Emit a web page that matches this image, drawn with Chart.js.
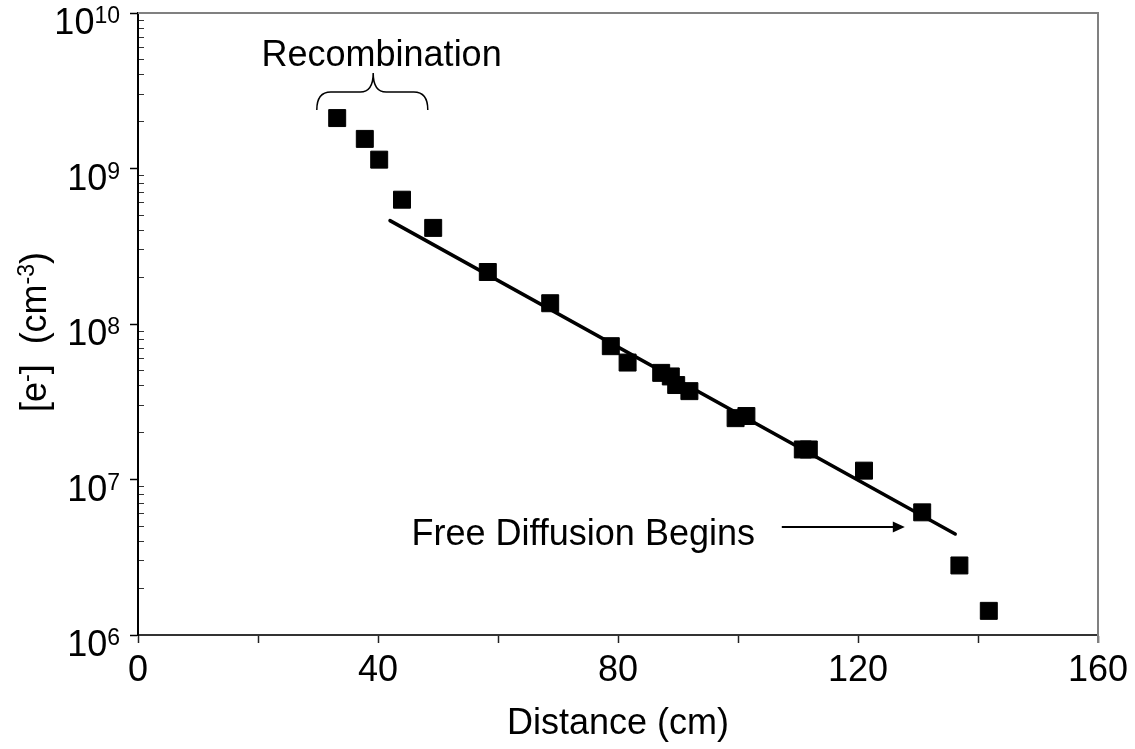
<!DOCTYPE html>
<html>
<head>
<meta charset="utf-8">
<title>[e-] vs Distance</title>
<script src="https://cdn.jsdelivr.net/npm/chart.js@4.4.0/dist/chart.umd.min.js"></script>
<style>
  html, body { margin: 0; padding: 0; background: #fff; }
  canvas { display: block; }
</style>
</head>
<body>
<canvas id="chart" width="1135" height="749"></canvas>
<script>
// Measured points (distance in cm, electron density in cm^-3)
const distance = [33.2, 37.8, 40.2, 44.0, 49.2, 58.3, 68.7, 78.8, 81.6, 87.2, 88.8, 89.7, 91.9, 99.6, 101.4, 110.8, 111.8, 121.0, 130.7, 136.9, 141.8];
const density = [2.11e9, 1.55e9, 1.14e9, 6.3e8, 4.15e8, 2.16e8, 1.36e8, 7.2e7, 5.65e7, 4.85e7, 4.6e7, 4.05e7, 3.7e7, 2.48e7, 2.56e7, 1.56e7, 1.56e7, 1.14e7, 6.15e6, 2.8e6, 1.43e6];

// Fitted line (free diffusion region)
const fitDistance = [42, 136.2];
const fitDensity = [4.62e8, 4.46e6];

// Axis ticks
const xTicks = [0, 20, 40, 60, 80, 100, 120, 140, 160];
const xLabels = ['0', '', '40', '', '80', '', '120', '', '160'];
const yExponents = [6, 7, 8, 9, 10];
const yMinorSteps = [2, 3, 4, 5, 6, 7, 8, 9];

const FONT = '"Liberation Sans", Arial, Helvetica, sans-serif';

const points = distance.map((d, i) => ({ x: d, y: density[i] }));
const fitPoints = fitDistance.map((d, i) => ({ x: d, y: fitDensity[i] }));

const minorValues = [];
yExponents.slice(0, -1).forEach(e => {
    yMinorSteps.forEach(s => minorValues.push(s * Math.pow(10, e)));
});

// Draws frame, y tick labels with superscripts, y title and the annotations
const decorations = {
    id: 'decorations',
    afterDraw(chart) {
        const { ctx, chartArea, scales: { x, y } } = chart;
        ctx.save();

        // gray frame on top and right
        ctx.strokeStyle = '#808080';
        ctx.lineWidth = 2;
        ctx.beginPath();
        ctx.moveTo(chartArea.left, chartArea.top);
        ctx.lineTo(chartArea.right, chartArea.top);
        ctx.lineTo(chartArea.right, chartArea.bottom + 8);
        ctx.stroke();

        // y tick labels 10^n
        ctx.fillStyle = '#000';
        ctx.textBaseline = 'alphabetic';
        const labelRight = y.right - 18;
        yExponents.forEach(e => {
            const base = y.getPixelForValue(Math.pow(10, e)) + 21;
            ctx.font = '23px ' + FONT;
            const supW = ctx.measureText(String(e)).width;
            ctx.textAlign = 'left';
            ctx.fillText(String(e), labelRight - supW, base - 11);
            ctx.font = '36px ' + FONT;
            ctx.textAlign = 'right';
            ctx.fillText('10', labelRight - supW, base);
        });

        // y title: [e-]  (cm-3)
        const parts = [
            { t: '[e', sup: false },
            { t: '-', sup: true },
            { t: ']  (cm', sup: false },
            { t: '-3', sup: true },
            { t: ')', sup: false }
        ];
        let total = 0;
        parts.forEach(p => {
            ctx.font = (p.sup ? '23px ' : '36px ') + FONT;
            p.w = ctx.measureText(p.t).width;
            total += p.w;
        });
        ctx.save();
        ctx.translate(46, (chartArea.top + chartArea.bottom) / 2 + 8);
        ctx.rotate(-Math.PI / 2);
        ctx.textAlign = 'left';
        let cx = -total / 2;
        parts.forEach(p => {
            ctx.font = (p.sup ? '23px ' : '36px ') + FONT;
            ctx.fillText(p.t, cx, p.sup ? -12 : 0);
            cx += p.w;
        });
        ctx.restore();

        // Recombination label with brace
        ctx.font = '36px ' + FONT;
        ctx.textAlign = 'center';
        ctx.fillText('Recombination', x.getPixelForValue(40.6), y.getPixelForValue(4.56e9));

        const bl = x.getPixelForValue(29.8);
        const br = x.getPixelForValue(48.3);
        const bm = x.getPixelForValue(39.2);
        const yEnd = y.getPixelForValue(2.38e9);
        const yMid = y.getPixelForValue(3.1e9);
        const yPeak = y.getPixelForValue(4.11e9);
        ctx.strokeStyle = '#000';
        ctx.lineWidth = 1.5;
        ctx.beginPath();
        ctx.moveTo(bl, yEnd);
        ctx.quadraticCurveTo(bl, yMid, bl + 14, yMid);
        ctx.lineTo(bm - 13, yMid);
        ctx.quadraticCurveTo(bm, yMid, bm, yPeak);
        ctx.quadraticCurveTo(bm, yMid, bm + 13, yMid);
        ctx.lineTo(br - 14, yMid);
        ctx.quadraticCurveTo(br, yMid, br, yEnd);
        ctx.stroke();

        // Free Diffusion Begins label with arrow
        ctx.fillText('Free Diffusion Begins', x.getPixelForValue(74.2), y.getPixelForValue(3.8e6));
        const ay = y.getPixelForValue(4.95e6);
        const ax1 = x.getPixelForValue(107.3);
        const ax2 = x.getPixelForValue(127.8);
        ctx.lineWidth = 2;
        ctx.beginPath();
        ctx.moveTo(ax1, ay);
        ctx.lineTo(ax2 - 10, ay);
        ctx.stroke();
        ctx.beginPath();
        ctx.moveTo(ax2, ay);
        ctx.lineTo(ax2 - 12, ay - 5.5);
        ctx.lineTo(ax2 - 12, ay + 5.5);
        ctx.closePath();
        ctx.fill();

        ctx.restore();
    }
};

new Chart(document.getElementById('chart'), {
    type: 'scatter',
    data: {
        datasets: [
            {
                label: 'fit',
                data: fitPoints,
                showLine: true,
                borderColor: '#000',
                borderWidth: 3.5,
                borderCapStyle: 'round',
                pointRadius: 0,
                order: 2
            },
            {
                label: '[e-]',
                data: points,
                pointStyle: 'rect',
                pointRadius: 12,
                backgroundColor: '#000',
                borderColor: '#000',
                borderWidth: 1,
                order: 1
            }
        ]
    },
    options: {
        responsive: false,
        animation: false,
        layout: { padding: { top: 13, right: 37, left: 0, bottom: 0 } },
        plugins: {
            legend: { display: false },
            tooltip: { enabled: false }
        },
        scales: {
            x: {
                type: 'linear',
                min: 0,
                max: 160,
                afterBuildTicks: s => { s.ticks = xTicks.map(v => ({ value: v })); },
                ticks: {
                    autoSkip: false,
                    maxRotation: 0,
                    padding: 6,
                    color: '#000',
                    font: { family: FONT, size: 36 },
                    callback: (v, i) => xLabels[i]
                },
                grid: { drawOnChartArea: false, tickLength: 8, tickColor: '#222', tickWidth: 1.5 },
                border: { color: '#333', width: 2 },
                title: {
                    display: true,
                    text: 'Distance (cm)',
                    color: '#000',
                    font: { family: FONT, size: 36 },
                    padding: { top: 0, bottom: 3 }
                },
                afterFit: s => { s.height = 114; }
            },
            y: {
                type: 'logarithmic',
                position: 'left',
                min: 1e6,
                max: 1e10,
                weight: 1,
                afterBuildTicks: s => { s.ticks = yExponents.map(e => ({ value: Math.pow(10, e) })); },
                ticks: { display: false },
                grid: { drawOnChartArea: false, tickLength: 8, tickColor: '#000', tickWidth: 1.5 },
                border: { color: '#000', width: 2 },
                afterFit: s => { s.width = 138; }
            },
            yMinor: {
                type: 'logarithmic',
                position: 'left',
                min: 1e6,
                max: 1e10,
                weight: 0,
                afterBuildTicks: s => { s.ticks = minorValues.map(v => ({ value: v })); },
                ticks: { display: false },
                grid: { drawOnChartArea: false, tickLength: -6, tickColor: '#333', tickWidth: 1 },
                border: { display: false },
                afterFit: s => { s.width = 0; }
            }
        }
    },
    plugins: [decorations]
});
</script>
</body>
</html>
